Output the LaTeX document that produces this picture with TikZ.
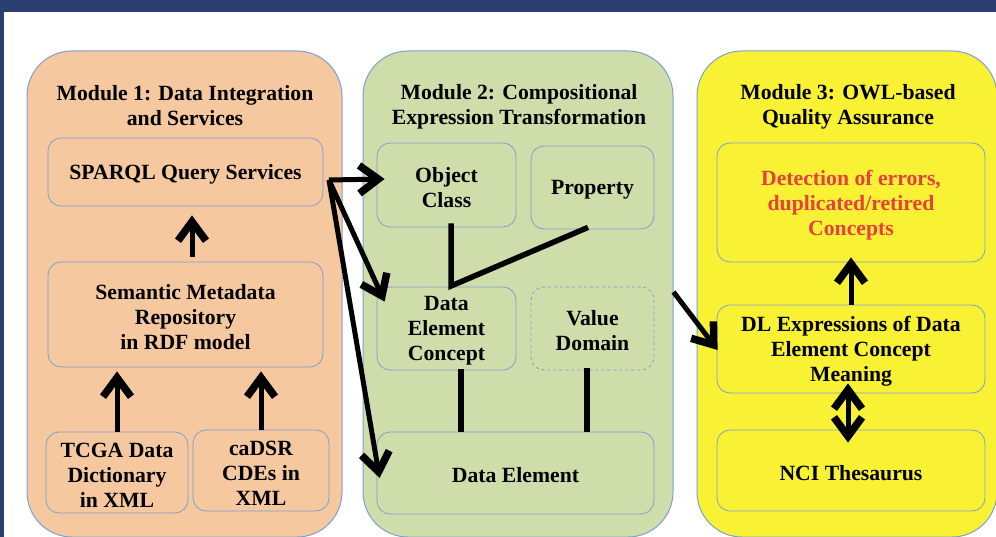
\documentclass[tikz,border=0pt]{standalone}
\usepackage{fontspec}
\setmainfont{Liberation Serif}
\usetikzlibrary{arrows.meta}
\definecolor{barblue}{RGB}{42,62,112}
\definecolor{peach}{RGB}{245,200,160}
\definecolor{olive}{RGB}{207,221,171}
\definecolor{yel}{RGB}{248,241,52}
\definecolor{edgeblue}{RGB}{125,160,208}
\definecolor{redtxt}{RGB}{230,64,63}
\begin{document}
\begin{tikzpicture}[x=1pt,y=-1pt,
  module/.style={draw=edgeblue, line width=1pt, rounded corners=45pt, inner sep=0pt},
  box/.style={draw=edgeblue, line width=0.8pt, rounded corners=13pt, inner sep=0pt},
  ttl/.style={align=center, font=\fontsize{21.7}{25}\selectfont\bfseries, inner sep=0pt},
  tip/.tip={Straight Barb[length=19pt,width=28pt,line width'=7.5pt]},
  arr/.style={line width=5pt, -tip},
  dbl/.style={line width=5pt, tip-tip},
  conn/.style={line width=5.5pt}]
\useasboundingbox (0,0) rectangle (996,537);
\begin{scope}
\clip (0,0) rectangle (996,537);
\fill[white] (0,0) rectangle (996,537);
\fill[barblue] (0,0) rectangle (996,12);
\fill[barblue] (0,0) rectangle (4,537);
% modules
\node[module, fill=peach, minimum width=315pt, minimum height=486pt] (m1) at (184.5,294) {};
\node[module, fill=olive, minimum width=310pt, minimum height=486pt] (m2) at (518,294) {};
\node[module, fill=yel, minimum width=300pt, minimum height=486pt] (m3) at (847,294) {};
\end{scope}
% titles
\node[ttl] (t1) at (185,106) {Module 1: Data Integration\\and Services};
\node[ttl] (t2) at (519,106.5) {Module 2: Compositional\\Expression Transformation};
\node[ttl] (t3) at (848,106.5) {Module 3: OWL-based\\Quality Assurance};
% module 1 boxes
\node[box, fill=peach, minimum width=275pt, minimum height=68pt] (sparql) at (185.5,172) {};
\node[box, fill=peach, minimum width=275pt, minimum height=105pt] (smr) at (185.5,314.5) {};
\node[box, fill=peach, minimum width=142pt, minimum height=81pt] (tcga) at (117,472.5) {};
\node[box, fill=peach, minimum width=136pt, minimum height=81pt] (cadsr) at (261,470.5) {};
% module 2 boxes
\node[box, fill=olive, minimum width=139pt, minimum height=84pt] (oc) at (446.5,185) {};
\node[box, fill=olive, minimum width=123pt, minimum height=83pt] (prop) at (592.5,187.5) {};
\node[box, fill=olive, minimum width=139pt, minimum height=83pt] (dec) at (446.5,328.5) {};
\node[box, fill=olive, dashed, minimum width=123pt, minimum height=83pt] (vd) at (592.5,328.5) {};
\node[box, fill=olive, minimum width=277pt, minimum height=82pt] (de) at (515.5,473) {};
% module 3 boxes
\node[box, fill=yel, minimum width=268pt, minimum height=119pt] (det) at (851,202.5) {};
\node[box, fill=yel, minimum width=268pt, minimum height=88pt] (dl) at (851,349) {};
\node[box, fill=yel, minimum width=268pt, minimum height=81pt] (nci) at (851,470.5) {};
% texts
\node[ttl] (sparqlT) at ([yshift=-2.5pt]sparql.center) {SPARQL Query Services};
\node[ttl] (smrT) at ([yshift=-3pt]smr.center) {Semantic Metadata\\Repository\\in RDF model};
\node[ttl] (tcgaT) at ([yshift=-2.5pt]tcga.center) {TCGA Data\\Dictionary\\in XML};
\node[ttl] (cadsrT) at ([yshift=-2.5pt]cadsr.center) {caDSR\\CDEs in\\XML};
\node[ttl] (ocT) at ([yshift=-2.5pt]oc.center) {Object\\Class};
\node[ttl] (propT) at ([yshift=-2.5pt]prop.center) {Property};
\node[ttl] (decT) at ([yshift=-2.5pt]dec.center) {Data\\Element\\Concept};
\node[ttl] (vdT) at ([yshift=-2.5pt]vd.center) {Value\\Domain};
\node[ttl] (deT) at ([yshift=-2.5pt]de.center) {Data Element};
\node[ttl, text=redtxt] (detT) at ([yshift=-2.5pt]det.center) {Detection of errors,\\duplicated/retired\\Concepts};
\node[ttl] (dlT) at ([yshift=-2.5pt]dl.center) {DL Expressions of Data\\Element Concept\\Meaning};
\node[ttl] (nciT) at ([yshift=-2.5pt]nci.center) {NCI Thesaurus};
% arrows module 1
\draw[arr] ([xshift=6.5pt,yshift=5pt]smr.north) -- ([xshift=6.5pt,yshift=-9pt]sparql.south);
\draw[arr] (tcga.north) -- ([yshift=-4pt]tcga.north |- smr.south);
\draw[arr] (cadsr.north) -- ([yshift=-4pt]cadsr.north |- smr.south);
% arrows from SPARQL
\coordinate (sp) at (329,180);
\draw[arr] (sp) -- ([xshift=8pt,yshift=6pt]oc.west);
\draw[arr] (sp) -- ([xshift=8pt,yshift=-15pt]dec.north west);
\draw[arr] (sp) -- ([xshift=3pt,yshift=-5pt]de.west);
% module 2 connectors
\coordinate (j) at (451,286);
\draw[conn, line join=miter] ([xshift=4.5pt,yshift=4pt]oc.south) -- (j) -- ([xshift=-4.5pt,yshift=2pt]prop.south);
\draw[conn] ([xshift=14.5pt,yshift=1pt]dec.south) -- ([xshift=-54.5pt]de.north);
\draw[conn] ([xshift=-5.5pt,yshift=2pt]vd.south) -- ([xshift=71.5pt]de.north);
% module 2 -> module 3
\draw[arr] ([yshift=2pt]m2.east) -- ([xshift=1pt,yshift=-1pt]dl.west);
% module 3 arrows
\draw[arr] (dl.north) -- ([yshift=5pt]det.south);
\draw[dbl] ([xshift=-3pt,yshift=10pt]dl.south) -- ([xshift=-3pt,yshift=-13pt]nci.north);
\end{tikzpicture}
\end{document}
